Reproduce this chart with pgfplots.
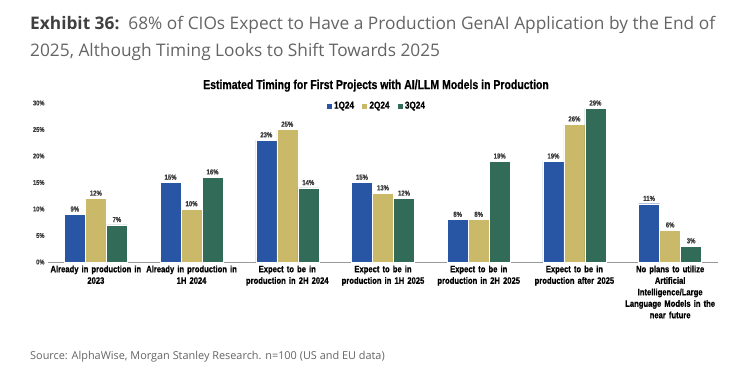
\documentclass[border=0pt]{standalone}
\usepackage{pgfplots}
\pgfplotsset{compat=1.18}
\usepackage{fontspec}
\setmainfont{Liberation Sans}
\newfontfamily\cond[FakeStretch=0.82,FakeBold=0.6]{Liberation Sans}
\newfontfamily\titlefont{Open Sans}
\definecolor{cblue}{RGB}{41,85,165}
\definecolor{cgold}{RGB}{202,185,104}
\definecolor{cgreen}{RGB}{50,107,88}
\definecolor{titledark}{RGB}{64,64,64}
\definecolor{titlegray}{RGB}{100,100,100}
\definecolor{lblgray}{RGB}{60,60,60}
\begin{document}
\begin{tikzpicture}
\path[use as bounding box] (0,0) rectangle (738pt,-373pt);
\node[anchor=base west, inner sep=0] at (30pt,-29pt) {\fontsize{17.3}{20}\selectfont\titlefont\textcolor{titledark}{\bfseries Exhibit 36:}\ \ \textcolor{titlegray}{68\% of CIOs Expect to Have a Production GenAI Application by the End of}};
\node[anchor=base west, inner sep=0] at (30pt,-56pt) {\fontsize{17.3}{20}\selectfont\titlefont\textcolor{titlegray}{2025, Although Timing Looks to Shift Towards 2025}};
\node[anchor=base, inner sep=0] at (376pt,-89pt) {\fontsize{12.8}{14}\selectfont\cond\bfseries Estimated Timing for First Projects with AI/LLM Models in Production};
\node[anchor=base west, inner sep=0] at (30pt,-359pt) {\fontsize{10.9}{12}\selectfont\titlefont\textcolor{titlegray}{Source: AlphaWise, Morgan Stanley Research. n=100 (US and EU data)}};
\begin{axis}[
  at={(48pt,-262pt)}, anchor=south west, scale only axis,
  width=670pt, height=159pt,
  ybar=0pt, bar width=21pt,
  xmin=-0.5, xmax=6.5, ymin=0, ymax=30,
  xtick={0,...,6},
  xticklabels={{Already in production in\\2023},{Already in production in\\1H 2024},{Expect to be in\\production in 2H 2024},{Expect to be in\\production in 1H 2025},{Expect to be in\\production in 2H 2025},{Expect to be in\\production after 2025},{No plans to utilize\\Artificial\\Intelligence/Large\\Language Models in the\\near future}},
  xticklabel style={align=center, font=\fontsize{9.3}{11.5}\selectfont\cond\bfseries, text width=100pt},
  ytick={0,5,...,30},
  yticklabel={\pgfmathprintnumber{\tick}\%},
  yticklabel style={font=\fontsize{7}{8}\selectfont\cond\bfseries, text=lblgray},
  /pgf/number format/assume math mode=true,
  axis x line*=bottom, axis y line*=left,
  y axis line style={draw=none},
  x axis line style={draw=gray!80, line width=0.8pt},
  major tick length=0pt,
  enlargelimits=false,
  nodes near coords={\pgfmathprintnumber{\pgfplotspointmeta}\%},
  every node near coord/.append style={font=\fontsize{7.3}{8}\selectfont\cond\bfseries, text=lblgray, inner sep=2.5pt},
  legend style={at={(0.49,1.035)}, anchor=north, draw=none, fill=none, legend columns=-1, font=\fontsize{10}{11}\selectfont\cond\bfseries, /tikz/every even column/.append style={column sep=5pt}},
  legend image code/.code={\fill[#1] (0pt,-3pt) rectangle (6pt,3pt);},
]
\addplot[fill=cblue, draw=white, line width=0.4pt] coordinates {(0,9) (1,15) (2,23) (3,15) (4,8) (5,19) (6,11)};
\addplot[fill=cgold, draw=white, line width=0.4pt] coordinates {(0,12) (1,10) (2,25) (3,13) (4,8) (5,26) (6,6)};
\addplot[fill=cgreen, draw=white, line width=0.4pt] coordinates {(0,7) (1,16) (2,14) (3,12) (4,19) (5,29) (6,3)};
\legend{1Q24,2Q24,3Q24}
\end{axis}
\end{tikzpicture}
\end{document}
